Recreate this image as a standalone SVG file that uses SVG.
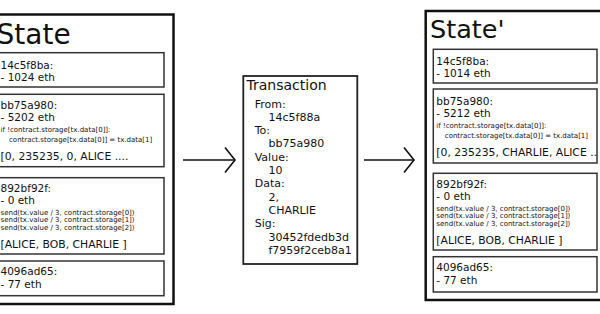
<svg xmlns="http://www.w3.org/2000/svg" width="600" height="314" viewBox="0 0 600 314">
<style>
text{font-family:"DejaVu Sans","Liberation Sans",sans-serif;fill:#111}
.outer{fill:#fff;stroke:#111;stroke-width:2.5}
.inner{fill:#fff;stroke:#333;stroke-width:1.5}
.tx{fill:#fff;stroke:#222;stroke-width:1.8}
.h{font-size:10.5px}
.s{font-size:7px}
.b{font-size:10.8px}
.t{font-size:11px}
.conn{fill:none;stroke:#111;stroke-width:1.6}
</style>
<defs>
<marker id="chev" markerUnits="userSpaceOnUse" markerWidth="16" markerHeight="30" viewBox="-13 -15 16 30" refX="0" refY="0" orient="auto" overflow="visible">
<path d="M-10,-12.5 L0,0 L-10,12.5" fill="none" stroke="#111" stroke-width="1.6"/>
</marker>
</defs>
<rect width="600" height="314" fill="#fff"/>

<g id="state">
<rect class="outer" x="-10" y="14.5" width="183.5" height="289.5"/>
<text x="-3.5" y="44" font-size="28">State</text>
<g id="state-14c5f8ba">
<rect class="inner" x="-2.5" y="52.7" width="166.5" height="34.3"/>
<text class="h" x="0.5" y="69">14c5f8ba:</text>
<text class="h" x="0.5" y="81">- 1024 eth</text>
</g>
<g id="state-bb75a980">
<rect class="inner" x="-2.5" y="94.3" width="166.5" height="72.4"/>
<text class="h" x="0.5" y="109">bb75a980:</text>
<text class="h" x="0.5" y="121">- 5202 eth</text>
<text class="s" x="0.5" y="132">if !contract.storage[tx.data[0]]:</text>
<text class="s" x="9" y="141.5">contract.storage[tx.data[0]] = tx.data[1]</text>
<text class="b" x="0.5" y="160">[0, 235235, 0, ALICE ....</text>
</g>
<g id="state-892bf92f">
<rect class="inner" x="-2.5" y="177.7" width="166.5" height="76.3"/>
<text class="h" x="0.5" y="191.5">892bf92f:</text>
<text class="h" x="0.5" y="203.5">- 0 eth</text>
<text class="s" x="0.5" y="214.5">send(tx.value / 3, contract.storage[0])</text>
<text class="s" x="0.5" y="222">send(tx.value / 3, contract.storage[1])</text>
<text class="s" x="0.5" y="229.5">send(tx.value / 3, contract.storage[2])</text>
<text class="b" x="0.5" y="248">[ALICE, BOB, CHARLIE ]</text>
</g>
<g id="state-4096ad65">
<rect class="inner" x="-2.5" y="261" width="166.5" height="34.7"/>
<text class="h" x="0.5" y="274.5">4096ad65:</text>
<text class="h" x="0.5" y="288">- 77 eth</text>
</g>
</g>

<g id="transaction">
<rect class="tx" x="243.3" y="76" width="114" height="188"/>
<text x="246.5" y="90" font-size="14">Transaction</text>
<text class="t" x="254.7" y="107.5">From:</text>
<text class="t" x="268.5" y="120.5">14c5f88a</text>
<text class="t" x="254.7" y="134">To:</text>
<text class="t" x="268.5" y="147.3">bb75a980</text>
<text class="t" x="254.7" y="160.7">Value:</text>
<text class="t" x="268.5" y="174">10</text>
<text class="t" x="254.7" y="187.3">Data:</text>
<text class="t" x="268.5" y="200.6">2,</text>
<text class="t" x="268.5" y="213.9">CHARLIE</text>
<text class="t" x="254.7" y="227">Sig:</text>
<text class="t" x="268.5" y="240.5">30452fdedb3d</text>
<text class="t" x="268.5" y="253.8">f7959f2ceb8a1</text>
</g>

<g id="state-prime">
<rect class="outer" x="425.7" y="11" width="181" height="289"/>
<text x="430" y="37.5" font-size="25.5">State'</text>
<g id="statep-14c5f8ba">
<rect class="inner" x="433.3" y="49.3" width="163.7" height="33.7"/>
<text class="h" x="436.3" y="65">14c5f8ba:</text>
<text class="h" x="436.3" y="77">- 1014 eth</text>
</g>
<g id="statep-bb75a980">
<rect class="inner" x="433.3" y="89" width="163.7" height="74"/>
<text class="h" x="436.3" y="105">bb75a980:</text>
<text class="h" x="436.3" y="117">- 5212 eth</text>
<text class="s" x="436.3" y="128">if !contract.storage[tx.data[0]]:</text>
<text class="s" x="444.8" y="137.5">contract.storage[tx.data[0]] = tx.data[1]</text>
<text class="b" x="436.3" y="155.5">[0, 235235, CHARLIE, ALICE ..</text>
</g>
<g id="statep-892bf92f">
<rect class="inner" x="433.3" y="173.3" width="163.7" height="76.7"/>
<text class="h" x="436.3" y="187.5">892bf92f:</text>
<text class="h" x="436.3" y="199.5">- 0 eth</text>
<text class="s" x="436.3" y="210.5">send(tx.value / 3, contract.storage[0])</text>
<text class="s" x="436.3" y="218">send(tx.value / 3, contract.storage[1])</text>
<text class="s" x="436.3" y="225.5">send(tx.value / 3, contract.storage[2])</text>
<text class="b" x="436.3" y="244">[ALICE, BOB, CHARLIE ]</text>
</g>
<g id="statep-4096ad65">
<rect class="inner" x="433.3" y="256.7" width="163.7" height="35.3"/>
<text class="h" x="436.3" y="271">4096ad65:</text>
<text class="h" x="436.3" y="284">- 77 eth</text>
</g>
</g>

<g id="connectors">
<path class="conn" d="M183,160 L235,160" marker-end="url(#chev)"/>
<path class="conn" d="M364,160 L414,160" marker-end="url(#chev)"/>
</g>
</svg>
